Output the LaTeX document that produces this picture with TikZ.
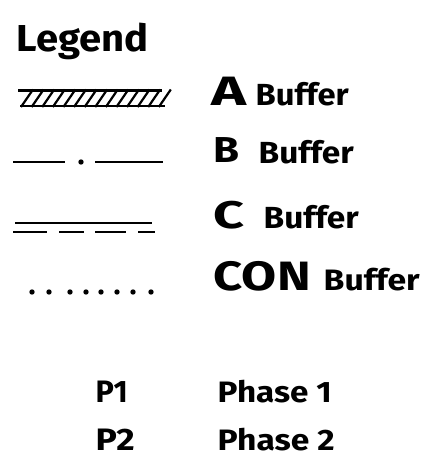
\documentclass[tikz,border=0pt]{standalone}
\usepackage{fontspec}
\setmainfont{Fira Sans}[BoldFont={* Bold}]
% bold text at a given size, stretched to a given width with its height kept
\newcommand{\wtext}[3]{{\bfseries\fontsize{#2}{#2}\selectfont\resizebox{#1pt}{\height}{#3}}}
\begin{document}
\begin{tikzpicture}[x=1pt,y=-1pt,
  sym/.style={line width=2.9pt,black},
  dashpart/.style={line width=2.7pt,black},
  hatch/.style={line width=2.2pt,black},
  lbl/.style={anchor=base west,inner sep=0pt},
]
\useasboundingbox (0,0) rectangle (441,465);

% heading
\node[lbl] (title) at (16.5,52) {\wtext{132}{37.5}{Legend}};

% A buffer: hatched band
\coordinate (atl) at (18,90.5);
\coordinate (atr) at (162,90.5);
\coordinate (abl) at (20,106);
\coordinate (abr) at (165,106);
\draw[sym] (atl) -- (atr);
\draw[sym] (abl) -- (abr);
\foreach \i in {0,...,13}
  \draw[hatch] ({21+10.6*\i},107) -- ({33+10.6*\i},89.5);
\node[lbl] (aA) at (211.5,106) {\wtext{35}{41}{A}};
\node[lbl] (aB) at (255.5,106) {\wtext{93}{30.5}{Buffer}};

% B buffer: dash-dot line
\coordinate (b1) at (13,162);
\coordinate (b2) at (65,162);
\coordinate (b3) at (95,162);
\coordinate (b4) at (163,162);
\draw[sym] (b1) -- (b2);
\fill (81,162) circle (2.7);
\draw[sym] (b3) -- (b4);
\node[lbl] (bB) at (213.5,163) {\wtext{26}{36}{B}};
\node[lbl] (bBuf) at (258.5,163) {\wtext{95}{30.5}{Buffer}};

% C buffer: solid line over a dashed line
\coordinate (c1) at (15,223);
\coordinate (c2) at (152,223);
\draw[sym] (c1) -- (c2);
\draw[dashpart] (13,232) -- (47,232);
\draw[dashpart] (59,232) -- (84,232);
\draw[dashpart] (95,232) -- (126,232);
\draw[dashpart] (138,232) -- (155,232);
\node[lbl] (cC) at (213.5,228) {\wtext{31}{38.5}{C}};
\node[lbl] (cBuf) at (263.5,228) {\wtext{95}{30.5}{Buffer}};

% CON buffer: dotted line
\foreach \x in {32,49,70,86,101,117,133,151}
  \fill (\x,292) circle (2.7);
\node[lbl] (con) at (213.5,290) {\wtext{97}{41}{CON}};
\node[lbl] (conBuf) at (323.5,290) {\wtext{96}{29.5}{Buffer}};

% phases
\node[lbl] (p1) at (95.5,402) {\wtext{32}{31}{P1}};
\node[lbl] (ph1) at (217.5,402) {\wtext{114}{29.5}{Phase 1}};
\node[lbl] (p2) at (95.5,450) {\wtext{39}{31}{P2}};
\node[lbl] (ph2) at (217.5,450) {\wtext{117}{29.5}{Phase 2}};
\end{tikzpicture}
\end{document}
